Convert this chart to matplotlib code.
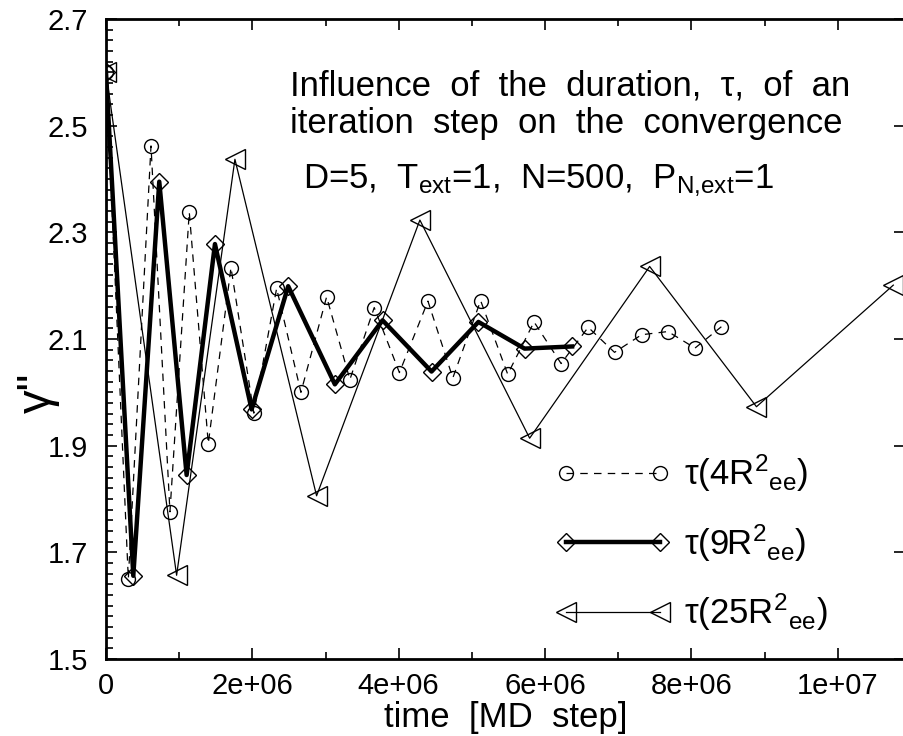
import matplotlib
matplotlib.use('Agg')
import matplotlib.pyplot as plt
from matplotlib.ticker import FixedLocator, MultipleLocator

plt.rcParams['font.family'] = ['Liberation Sans', 'DejaVu Sans']
plt.rcParams['mathtext.fontset'] = 'custom'
plt.rcParams['mathtext.rm'] = 'Liberation Sans'
plt.rcParams['mathtext.it'] = 'Liberation Sans:italic'
plt.rcParams['mathtext.bf'] = 'Liberation Sans:bold'

# ---- data (time in units of 1e6 MD steps) ----
t_4 = [0, 0.305, 0.615, 0.874, 1.138, 1.398, 1.708, 2.02, 2.332, 2.664, 3.015, 3.333, 3.666,
       4.01, 4.40, 4.74, 5.12, 5.49, 5.85, 6.22, 6.59, 6.95, 7.32, 7.68, 8.05, 8.41]
g_4 = [2.60, 1.650, 2.462, 1.776, 2.338, 1.904, 2.234, 1.961, 2.195, 2.000, 2.179, 2.024, 2.159,
       2.037, 2.171, 2.027, 2.172, 2.034, 2.132, 2.054, 2.122, 2.075, 2.108, 2.114, 2.083, 2.123]

t_9 = [0, 0.373, 0.728, 1.102, 1.489, 1.99, 2.49, 3.128, 3.78, 4.449, 5.09, 5.72, 6.37]
g_9 = [2.60, 1.656, 2.395, 1.845, 2.278, 1.968, 2.199, 2.015, 2.135, 2.039, 2.132, 2.082, 2.086]

t_25 = [0, 0.965, 1.762, 2.878, 4.29, 5.79, 7.43, 8.89, 10.76]
g_25 = [2.60, 1.657, 2.437, 1.806, 2.323, 1.914, 2.236, 1.973, 2.201]

labels = [r"τ(4R$^{\mathregular{2}}{}_{\mathregular{ee}}$)",
          r"τ(9R$^{\mathregular{2}}{}_{\mathregular{ee}}$)",
          r"τ(25R$^{\mathregular{2}}{}_{\mathregular{ee}}$)"]

xtick_vals = [0, 2e6, 4e6, 6e6, 8e6, 1e7]
xtick_labels = ["0", "2e+06", "4e+06", "6e+06", "8e+06", "1e+07"]
ytick_vals = [1.5, 1.7, 1.9, 2.1, 2.3, 2.5, 2.7]
ytick_labels = ["1.5", "1.7", "1.9", "2.1", "2.3", "2.5", "2.7"]

W, H = 904, 736
fig = plt.figure(figsize=(W / 100, H / 100), dpi=100)
ax = fig.add_axes([106 / W, (H - 659) / H, 799 / W, 640 / H])

s = 1e6
ax.plot([v * s for v in t_4], g_4, color='black', lw=0.9, dashes=(6, 5),
        marker='o', ms=10, mfc='none', mec='black', mew=1.0, label=labels[0])
ax.plot([v * s for v in t_9], g_9, color='black', lw=3.2,
        marker='D', ms=9.5, mfc='none', mec='black', mew=1.0, label=labels[1])
ax.plot([v * s for v in t_25], g_25, color='black', lw=0.9,
        marker='<', ms=14, mfc='none', mec='black', mew=1.0, label=labels[2])

ax.set_xlim(0, 10.92e6)
ax.set_ylim(1.5, 2.7)

ax.xaxis.set_major_locator(FixedLocator(xtick_vals))
ax.set_xticklabels(xtick_labels)
ax.xaxis.set_minor_locator(MultipleLocator(1e6))
ax.yaxis.set_major_locator(FixedLocator(ytick_vals))
ax.set_yticklabels(ytick_labels)
ax.yaxis.set_minor_locator(MultipleLocator(0.02))

for sp in ax.spines.values():
    sp.set_linewidth(2.0)

ax.tick_params(which='both', direction='in', top=True, right=True, width=1.2)
ax.tick_params(which='major', length=8, labelsize=21, pad=9)
ax.tick_params(axis='y', which='major', pad=13)
ax.tick_params(which='minor', length=5)
ax.tick_params(axis='y', which='minor', right=False)

ax.set_xlabel("time  [MD  step]", fontsize=25, labelpad=1)

fig.text(38 / W, 1 - 393 / H, 'γ"', rotation=90, fontsize=34, ha='center', va='center')

fig.text(290 / W, 1 - 95 / H, "Influence  of  the  duration,  τ,  of  an", fontsize=25,
         ha='left', va='baseline')
fig.text(290 / W, 1 - 133 / H, "iteration  step  on  the  convergence", fontsize=25,
         ha='left', va='baseline')
fig.text(303 / W, 1 - 188 / H,
         r"D=5,  T$_{\mathregular{ext}}$=1,  N=500,  P$_{\mathregular{N{,}ext}}$=1",
         fontsize=25, ha='left', va='baseline')

leg = ax.legend(loc='upper left', bbox_to_anchor=(556 / W, 1 - 453 / H),
                bbox_transform=fig.transFigure, frameon=False, numpoints=2,
                fontsize=25, handlelength=3.3, handletextpad=0.4,
                labelspacing=0.8, borderpad=0, borderaxespad=0)

fig.savefig("out.png", dpi=100)
